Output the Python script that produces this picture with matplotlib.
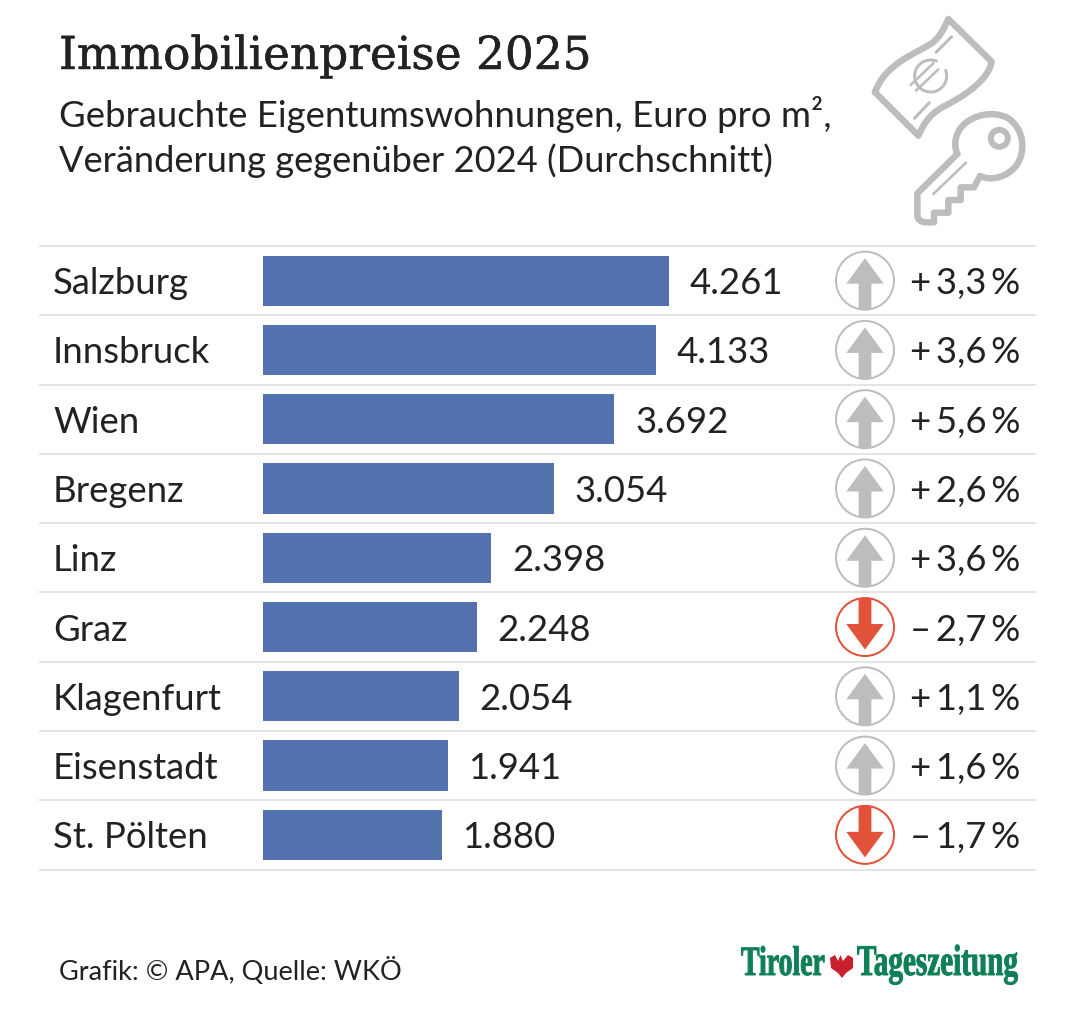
import matplotlib
matplotlib.use("Agg")
import matplotlib.pyplot as plt
from matplotlib.path import Path
from matplotlib.patches import PathPatch, Circle, Polygon, Arc
from matplotlib.patheffects import AbstractPathEffect, withStroke
from matplotlib.transforms import Affine2D

#DATA
cities = ["Salzburg", "Innsbruck", "Wien", "Bregenz", "Linz", "Graz", "Klagenfurt", "Eisenstadt", "St. Pölten"]
prices = [4261, 4133, 3692, 3054, 2398, 2248, 2054, 1941, 1880]
changes = [3.3, 3.6, 5.6, 2.6, 3.6, -2.7, 1.1, 1.6, -1.7]

W, H = 1080, 1016
BLUE = "#5472ae"
GREY = "#bdbdbd"
RED = "#e2523a"
INK = "#222222"
LINE = "#e4e4e4"
GREEN = "#0f7f56"
TOP, BOTTOM = 246.0, 869.5
ROW = (BOTTOM - TOP) / len(cities)
SIZE = 26.3
px = 72 / 100  # one pixel in points


class Tall(AbstractPathEffect):
    # stretches glyphs upward so the logo text reads as condensed
    def __init__(self, factor):
        self.factor = factor

    def draw_path(self, renderer, gc, tpath, affine, rgbFace=None):
        gc0 = renderer.new_gc()
        gc0.copy_properties(gc)
        gc0.set_linewidth(0.7)
        gc0.set_foreground(GREEN)
        renderer.draw_path(gc0, tpath, Affine2D().scale(1, self.factor) + affine, rgbFace)
        gc0.restore()


fig = plt.figure(figsize=(W / 100, H / 100), dpi=100, facecolor="white")

# overlay in pixel coords for titles, rules and icons
bg = fig.add_axes([0, 0, 1, 1])
bg.set_xlim(0, W)
bg.set_ylim(H, 0)
bg.axis("off")

# bars
X0, X1 = 263, 1036
ax = fig.add_axes([X0 / W, 1 - BOTTOM / H, (X1 - X0) / W, (BOTTOM - TOP) / H])
ax.patch.set_alpha(0)
ax.set_xlim(0, (X1 - X0) / 0.0952)
ax.set_ylim(len(cities), 0)
ax.axis("off")
ypos = [i + 0.5 for i in range(len(cities))]
ax.barh(ypos, prices, height=0.725, color=BLUE)
for y, p in zip(ypos, prices):
    label = f"{p:,}".replace(",", ".")
    ax.annotate(label, (p, y), xytext=(20.5 * px, 0), textcoords="offset points", va="center_baseline",
                ha="left", fontsize=SIZE, color=INK, family="Lato")

# titles
bg.text(59, 69, "Immobilienpreise 2025", fontsize=32.7, family="DejaVu Serif", color=INK,
        path_effects=[withStroke(linewidth=0.35, foreground=INK)])
bg.text(59, 127, "Gebrauchte Eigentumswohnungen, Euro pro m²,", fontsize=SIZE, family="Lato", color=INK)
bg.text(59, 172, "Veränderung gegenüber 2024 (Durchschnitt)", fontsize=26.1, family="Lato", color=INK)

# rules
for i in range(len(cities) + 1):
    y = TOP + i * ROW
    bg.plot([39, 1036], [y, y], color=LINE, lw=2 * px, solid_capstyle="butt")

# row labels and change markers
for i, (c, d) in enumerate(zip(cities, changes)):
    yc = TOP + (i + 0.5) * ROW
    bg.text(53, yc, c, fontsize=SIZE, family="Lato", color=INK, va="center_baseline")
    sign = "+" if d > 0 else "–"
    txt = sign + "\u2009" + f"{abs(d):.1f}".replace(".", ",") + "\u2009%"
    bg.text(1020, yc, txt, fontsize=SIZE, family="Lato", color=INK, ha="right", va="center_baseline")
    col = GREY if d > 0 else RED
    s = -1 if d > 0 else 1
    cx = 865
    bg.add_patch(Circle((cx, yc), 29, fc="white", ec=col, lw=2 * px))
    arrow = [(cx - 6.4, yc - s * 29), (cx + 6.4, yc - s * 29), (cx + 6.4, yc - s * 3),
             (cx + 18.7, yc - s * 3), (cx, yc + s * 22.5), (cx - 18.7, yc - s * 3), (cx - 6.4, yc - s * 3)]
    bg.add_patch(Polygon(arrow, closed=True, fc=col, ec="none"))


def z(x, y):
    # zoom crop coords to figure pixels
    return (820 + x / 3, y / 3)


def stroke(points, codes, lw=6.5):
    path = Path([z(*p) for p in points], codes)
    bg.add_patch(PathPatch(path, fc="none", ec=GREY, lw=lw * px, capstyle="round", joinstyle="round"))


M, L, C = Path.MOVETO, Path.LINETO, Path.CURVE4

# banknote
stroke([(165, 277), (195, 190), (290, 160), (335, 130), (360, 112), (372, 85), (385, 57),
        (515, 185), (505, 245), (420, 295), (370, 320), (325, 345), (310, 375), (295, 407), (165, 277)],
       [M, C, C, C, C, C, C, L, C, C, C, C, C, C, L])
stroke([(348, 157), (395, 110)], [M, L], lw=3)
stroke([(283, 355), (328, 308)], [M, L], lw=3)

# euro sign
ex, ey = z(332, 228)
bg.add_patch(Arc((ex, ey), 32, 32, angle=-45, theta1=20, theta2=340, ec=GREY, lw=3 * px, fc="none"))
stroke([(272, 255), (340, 190)], [M, L], lw=2.6)
stroke([(288, 272), (355, 208)], [M, L], lw=2.6)

# key
stroke([(480, 528), (515, 545), (565, 530), (590, 495), (620, 450), (610, 385), (565, 355),
        (520, 330), (460, 345), (430, 375), (405, 400), (400, 435), (412, 462)],
       [M, C, C, C, C, C, C, C, C, C, C, C, C])
stroke([(412, 462), (292, 580), (292, 645), (292, 660), (305, 667), (318, 667), (342, 667), (342, 638),
        (385, 638), (385, 600), (422, 600), (422, 562), (462, 562), (480, 528)],
       [M, L, L, C, C, C, L, L, L, L, L, L, L, L])
hx, hy = z(538, 415)
bg.add_patch(Circle((hx, hy), 8.5, fc="none", ec=GREY, lw=6 * px))
stroke([(340, 582), (438, 488)], [M, L], lw=2.6)

# footer
bg.text(59, 980, "Grafik: © APA, Quelle: WKÖ", fontsize=19.55, family="Lato", color=INK)
logo_fx = [Tall(1.5)]
bg.text(741, 975, "Tiroler", fontsize=20, family="Liberation Serif", weight="bold", color=GREEN,
        path_effects=logo_fx)
bg.text(857, 975, "Tageszeitung", fontsize=21, family="Liberation Serif", weight="bold", color=GREEN,
        path_effects=logo_fx)
eagle = [(840.5, 955), (843, 961), (848, 955), (853, 958), (853, 968), (846, 973), (842, 978), (838, 973),
         (831, 968), (830, 958), (835, 955), (838, 961)]
bg.add_patch(Polygon(eagle, closed=True, fc="#c8202c", ec="none"))

fig.savefig("out.png", dpi=100, facecolor="white")
